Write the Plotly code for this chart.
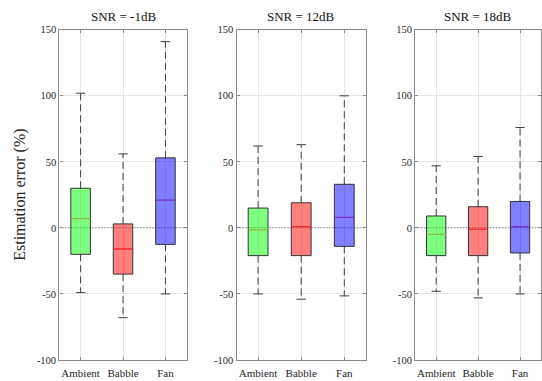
import plotly.graph_objects as go

categories = ["Ambient", "Babble", "Fan"]
panel_titles = ["SNR = -1dB", "SNR = 12dB", "SNR = 18dB"]

# per panel: [Ambient, Babble, Fan]
upper = [[102, 56, 141], [62, 63, 100], [47, 54, 76]]
q3 = [[30, 3, 53], [15, 19, 33], [9, 16, 20]]
median = [[7, -16, 21], [-1.5, 1, 8], [-5, -1, 1]]
q1 = [[-20, -35, -12.5], [-21, -21, -14], [-21, -21, -19]]
lower = [[-49, -68, -50], [-50, -54, -51.5], [-48, -53, -50]]

y_ticks = [-100, -50, 0, 50, 100, 150]

fills = ["rgba(0,255,0,0.5)", "rgba(255,0,0,0.5)", "rgba(0,0,255,0.5)"]
median_colors = ["#8cb83c", "#f02828", "#7a2cc8"]

W, H = 542, 381
x_domains = [[59.5 / W, 187 / W], [237 / W, 366.5 / W], [416 / W, 1.0]]
y_domain = [(H - 365.5) / H, (H - 25.5) / H]

fig = go.Figure()
font_family = "Liberation Serif"
bw, cw = 0.23, 0.11
whisk_col = "#3c3c3c"

for p in range(3):
    xa = "x" if p == 0 else f"x{p+1}"
    ya = "y" if p == 0 else f"y{p+1}"
    # zero dotted line
    fig.add_trace(go.Scatter(x=[0.5, 3.5], y=[0, 0], mode="lines",
                             line=dict(color="#555", width=0.9, dash="1px,2px"),
                             xaxis=xa, yaxis=ya, showlegend=False, hoverinfo="skip"))
    for i in range(3):
        c = i + 1
        # whiskers (dashed)
        fig.add_trace(go.Scatter(x=[c, c], y=[q3[p][i], upper[p][i]], mode="lines",
                                 line=dict(color=whisk_col, width=1, dash="7px,4px"),
                                 xaxis=xa, yaxis=ya, showlegend=False, hoverinfo="skip"))
        fig.add_trace(go.Scatter(x=[c, c], y=[q1[p][i], lower[p][i]], mode="lines",
                                 line=dict(color=whisk_col, width=1, dash="7px,4px"),
                                 xaxis=xa, yaxis=ya, showlegend=False, hoverinfo="skip"))
        # caps
        for v in (upper[p][i], lower[p][i]):
            fig.add_trace(go.Scatter(x=[c - cw, c + cw], y=[v, v], mode="lines",
                                     line=dict(color=whisk_col, width=1),
                                     xaxis=xa, yaxis=ya, showlegend=False, hoverinfo="skip"))
        # box
        fig.add_trace(go.Scatter(x=[c - bw, c + bw, c + bw, c - bw, c - bw],
                                 y=[q1[p][i], q1[p][i], q3[p][i], q3[p][i], q1[p][i]],
                                 mode="lines", fill="toself", fillcolor=fills[i],
                                 line=dict(color="#333", width=1),
                                 xaxis=xa, yaxis=ya, showlegend=False, hoverinfo="skip"))
        # median
        fig.add_trace(go.Scatter(x=[c - bw, c + bw], y=[median[p][i], median[p][i]], mode="lines",
                                 line=dict(color=median_colors[i], width=1.3),
                                 xaxis=xa, yaxis=ya, showlegend=False, hoverinfo="skip"))

layout = dict(
    width=W, height=H, margin=dict(l=0, r=0, t=0, b=0),
    paper_bgcolor="white", plot_bgcolor="white",
    font=dict(family=font_family, color="#262626", size=10),
    showlegend=False, annotations=[],
)
for p in range(3):
    xk = "xaxis" if p == 0 else f"xaxis{p+1}"
    yk = "yaxis" if p == 0 else f"yaxis{p+1}"
    ya = "y" if p == 0 else f"y{p+1}"
    xa = "x" if p == 0 else f"x{p+1}"
    layout[xk] = dict(domain=x_domains[p], anchor=ya, range=[0.5, 3.5],
                      tickvals=[1, 2, 3], ticktext=categories,
                      showgrid=True, gridcolor="#e6e6e6", gridwidth=1,
                      showline=True, linecolor="#8a8a8a", linewidth=1.3, mirror="ticks",
                      ticks="inside", ticklen=3, tickcolor="#8a8a8a", ticklabelstandoff=3,
                      zeroline=False, tickfont=dict(size=11, color="#262626", family=font_family))
    layout[yk] = dict(domain=y_domain, anchor=xa, range=[-100, 150],
                      tickvals=y_ticks, ticktext=[str(v) for v in y_ticks],
                      showgrid=True, gridcolor="#e6e6e6", gridwidth=1,
                      showline=True, linecolor="#8a8a8a", linewidth=1.3, mirror="ticks",
                      ticks="inside", ticklen=3, tickcolor="#8a8a8a",
                      zeroline=False, tickfont=dict(size=10.5, color="#262626", family=font_family))
    cx = (x_domains[p][0] + x_domains[p][1]) / 2
    layout["annotations"].append(dict(text=panel_titles[p], x=cx, y=(H - 12) / H,
                                      xref="paper", yref="paper", showarrow=False,
                                      xanchor="center", yanchor="middle",
                                      font=dict(size=13, color="#111", family=font_family)))

layout["annotations"].append(dict(text="Estimation error (%)", x=20 / W, y=(H - 195.5) / H,
                                  xref="paper", yref="paper", showarrow=False, textangle=-90,
                                  xanchor="center", yanchor="middle",
                                  font=dict(size=16, color="#262626", family=font_family)))

fig.update_layout(**layout)
fig.write_html("out.html")
